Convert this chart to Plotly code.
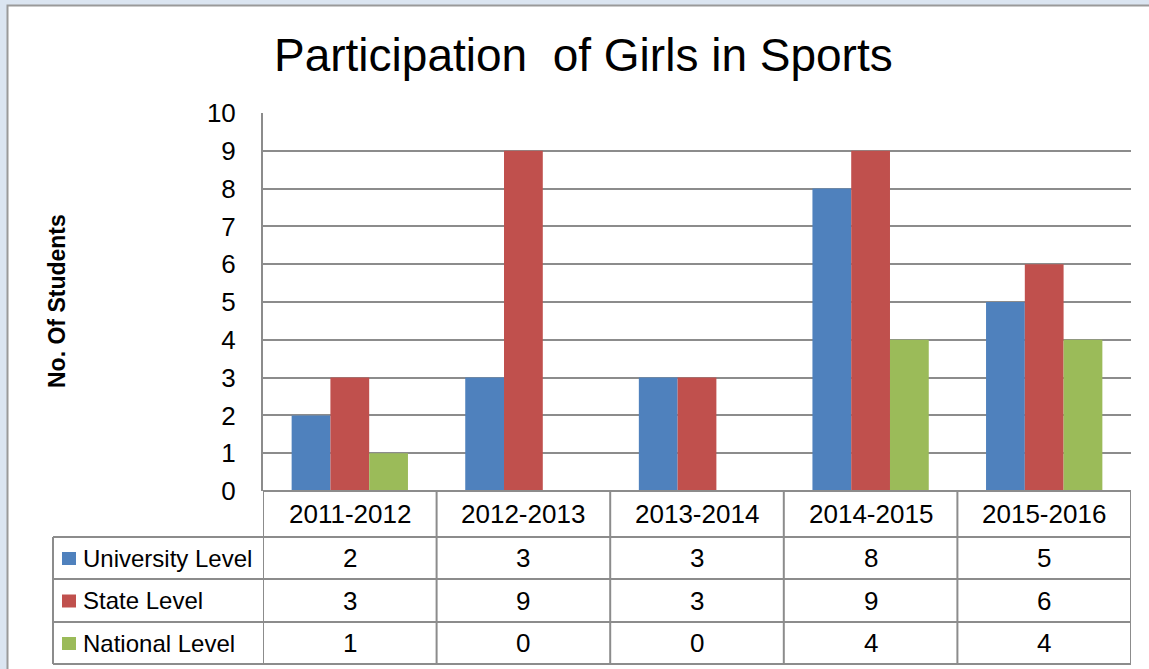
import plotly.graph_objects as go

# data
years = ["2011-2012", "2012-2013", "2013-2014", "2014-2015", "2015-2016"]
series_names = ["University Level", "State Level", "National Level"]
university = [2, 3, 3, 8, 5]
state = [3, 9, 3, 9, 6]
national = [1, 0, 0, 4, 4]
colors = ["#4f81bd", "#c0504d", "#9bbb59"]

W, H = 1149, 669
FONT = "Liberation Sans, Arial, sans-serif"
GRID = "#8c8c8c"

# plot area in pixels
L, R, T, B = 263, 1131, 113, 491
TABLE_L = 53
ROWS = [491, 537, 579, 622, 664]   # horizontal lines of the data table


def px(x):
    return x / W


def py(y):
    return 1 - y / H


series = [university, state, national]

fig = go.Figure()
for name, vals, col in zip(series_names, series, colors):
    fig.add_trace(go.Bar(x=years, y=vals, name=name, marker_color=col,
                         marker_line_width=0))

shapes = []
# white chart area and its thin border
shapes.append(dict(type="rect", xref="paper", yref="paper", x0=px(7.5), x1=1.01,
                   y0=-0.01, y1=py(5.5), fillcolor="white",
                   line=dict(color="#9a9a9a", width=2), layer="below"))

line = dict(color=GRID, width=2)
# horizontal table lines
for i, y in enumerate(ROWS):
    x0 = px(L) if i == 0 else px(TABLE_L)
    shapes.append(dict(type="line", xref="paper", yref="paper", x0=x0, x1=px(R),
                       y0=py(y), y1=py(y), line=line))
# vertical table lines on category boundaries
for k in range(len(years) + 1):
    shapes.append(dict(type="line", xref="x", yref="paper", x0=k - 0.5, x1=k - 0.5,
                       y0=py(ROWS[0]), y1=py(ROWS[-1]), line=line))
shapes.append(dict(type="line", xref="paper", yref="paper", x0=px(TABLE_L), x1=px(TABLE_L),
                   y0=py(ROWS[1]), y1=py(ROWS[-1]), line=line))

annotations = []
# title
annotations.append(dict(text="Participation  of Girls in Sports", xref="paper", yref="paper",
                        x=px(583), y=py(55), xanchor="center", yanchor="middle",
                        showarrow=False, font=dict(family=FONT, size=46, color="black")))
# y axis title
annotations.append(dict(text="<b>No. Of Students</b>", xref="paper", yref="paper",
                        x=px(57), y=py(301), textangle=-90, xanchor="center",
                        yanchor="middle", showarrow=False,
                        font=dict(family=FONT, size=23, color="black")))
# header row
hc = (ROWS[0] + ROWS[1]) / 2
for yr in years:
    annotations.append(dict(text=yr, xref="x", yref="paper", x=yr, y=py(hc),
                            yanchor="middle", showarrow=False,
                            font=dict(family=FONT, size=26, color="black")))
# value rows with legend keys
for r, (name, vals, col) in enumerate(zip(series_names, series, colors)):
    yc = (ROWS[r + 1] + ROWS[r + 2]) / 2
    shapes.append(dict(type="rect", xref="paper", yref="paper", x0=px(62), x1=px(76),
                       y0=py(yc + 7), y1=py(yc - 6), fillcolor=col, line_width=0))
    annotations.append(dict(text=name, xref="paper", yref="paper", x=px(81), y=py(yc),
                            xanchor="left", yanchor="middle", showarrow=False,
                            font=dict(family=FONT, size=24, color="black")))
    for yr, v in zip(years, vals):
        annotations.append(dict(text=str(v), xref="x", yref="paper", x=yr, y=py(yc),
                                yanchor="middle", showarrow=False,
                                font=dict(family=FONT, size=26, color="black")))

fig.update_layout(
    width=W, height=H,
    margin=dict(l=0, r=0, t=0, b=0, pad=0),
    paper_bgcolor="#dbe5f1",
    plot_bgcolor="rgba(0,0,0,0)",
    showlegend=False,
    barmode="group",
    bargap=0.33,
    bargroupgap=0,
    shapes=shapes,
    annotations=annotations,
    xaxis=dict(domain=[px(L), px(R)], range=[-0.5, len(years) - 0.5],
               showticklabels=False, showgrid=False, zeroline=False, showline=False,
               automargin=False),
    yaxis=dict(domain=[py(B), py(T)], range=[0, 10], dtick=1,
               showgrid=True, gridcolor=GRID, gridwidth=2, zeroline=False,
               showline=True, linecolor=GRID, linewidth=2,
               ticks="", ticklabelstandoff=20, automargin=False,
               tickfont=dict(family=FONT, size=26, color="black")),
)

fig.write_html("out.html", config={"displayModeBar": False},
               post_script="document.body.style.margin='0';")
